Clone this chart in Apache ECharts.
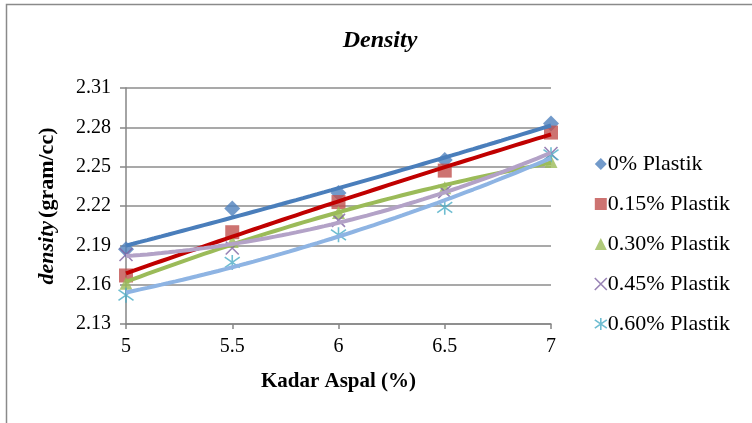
<!DOCTYPE html>
<html>
<head>
<meta charset="utf-8">
<script src="https://cdn.jsdelivr.net/npm/echarts@6/dist/echarts.min.js"></script>
<style>
  html, body { margin: 0; padding: 0; background: #fff; }
  #chart { width: 752px; height: 423px; }
</style>
</head>
<body>
<div id="chart"></div>
<script>
// Kadar aspal (%) on the x axis
const kadarAspal = [5, 5.5, 6, 6.5, 7];

// Measured density (gram/cc) for each plastic content
const seriesNames = ['0% Plastik', '0.15% Plastik', '0.30% Plastik', '0.45% Plastik', '0.60% Plastik'];
const density0 = [2.187, 2.218, 2.230, 2.255, 2.283];
const density015 = [2.167, 2.200, 2.223, 2.247, 2.276];
const density030 = [2.161, 2.193, 2.215, 2.234, 2.254];
const density045 = [2.183, 2.188, 2.209, 2.231, 2.260];
const density060 = [2.152, 2.177, 2.198, 2.219, 2.259];

const yTicks = [2.13, 2.16, 2.19, 2.22, 2.25, 2.28, 2.31];
const xTicks = [5, 5.5, 6, 6.5, 7];

const allDensity = [density0, density015, density030, density045, density060];

const markerColors = ['#4F81BD', '#C0504D', '#9BBB59', '#8064A2', '#4BACC6'];
const trendColors = ['#4A7EBB', '#C00000', '#9BBB59', '#B3A2C7', '#8EB4E3'];

const xMark = 'path://M0,0 L10,10 M10,0 L0,10';
const starMark = 'path://M0,1.5 L10,8.5 M10,1.5 L0,8.5 M5,0 L5,10';
const symbols = ['diamond', 'rect', 'triangle', xMark, starMark];
const symbolSizes = [16, 14, 13, 13, 15];
const stroked = [false, false, false, true, true];

// Second-order least-squares trendline through the measured points
function quadFit(xs, ys) {
  let s0 = xs.length, s1 = 0, s2 = 0, s3 = 0, s4 = 0, t0 = 0, t1 = 0, t2 = 0;
  for (let i = 0; i < xs.length; i++) {
    const x = xs[i], y = ys[i];
    s1 += x; s2 += x * x; s3 += x * x * x; s4 += x * x * x * x;
    t0 += y; t1 += x * y; t2 += x * x * y;
  }
  const M = [[s0, s1, s2, t0], [s1, s2, s3, t1], [s2, s3, s4, t2]];
  for (let c = 0; c < 3; c++) {
    for (let r = c + 1; r < 3; r++) {
      const f = M[r][c] / M[c][c];
      for (let k = c; k < 4; k++) M[r][k] -= f * M[c][k];
    }
  }
  const coef = [0, 0, 0];
  for (let r = 2; r >= 0; r--) {
    let s = M[r][3];
    for (let k = r + 1; k < 3; k++) s -= M[r][k] * coef[k];
    coef[r] = s / M[r][r];
  }
  return coef;
}

function trendPoints(ys) {
  const c = quadFit(kadarAspal, ys);
  const pts = [];
  const x0 = kadarAspal[0], x1 = kadarAspal[kadarAspal.length - 1];
  for (let i = 0; i <= 60; i++) {
    const x = x0 + (x1 - x0) * i / 60;
    pts.push([x, c[0] + c[1] * x + c[2] * x * x]);
  }
  return pts;
}

const series = [];
allDensity.forEach((ys, i) => {
  series.push({
    name: seriesNames[i],
    type: 'scatter',
    z: 2,
    symbol: symbols[i],
    symbolSize: symbolSizes[i],
    itemStyle: stroked[i]
      ? { color: 'rgba(0,0,0,0)', borderColor: markerColors[i], borderWidth: 1.6 }
      : { color: markerColors[i] },
    data: kadarAspal.map((x, k) => [x, ys[k]])
  });
});
allDensity.forEach((ys, i) => {
  series.push({
    name: 'trend ' + seriesNames[i],
    type: 'line',
    z: 3,
    showSymbol: false,
    silent: true,
    lineStyle: { color: trendColors[i], width: 4 },
    data: trendPoints(ys)
  });
});

const serif = '"Liberation Serif", "Times New Roman", serif';

const chart = echarts.init(document.getElementById('chart'), null, { renderer: 'canvas' });
chart.setOption({
  animation: false,
  backgroundColor: '#ffffff',
  textStyle: { fontFamily: serif },
  graphic: [{
    type: 'rect',
    left: 4, top: 2,
    shape: { x: 0, y: 0, width: 800, height: 440 },
    style: { fill: 'none', stroke: '#8a8a8a', lineWidth: 1.5 },
    z: -1
  }],
  title: {
    text: 'Density',
    left: 375, top: 24,
    textAlign: 'center',
    textStyle: { fontFamily: serif, fontSize: 24, fontWeight: 'bold', fontStyle: 'italic', color: '#000' }
  },
  legend: {
    orient: 'vertical',
    left: 589, top: 148,
    itemGap: 18,
    itemWidth: 12, itemHeight: 12,
    data: seriesNames.map((n, i) => ({
      name: n,
      icon: symbols[i],
      itemStyle: stroked[i]
        ? { color: 'rgba(0,0,0,0)', borderColor: markerColors[i], borderWidth: 1.6 }
        : { color: markerColors[i] }
    })),
    textStyle: { fontFamily: serif, fontSize: 22, lineHeight: 22, color: '#000', padding: [0, 0, 0, -4] }
  },
  grid: { left: 126, right: 201, top: 88, bottom: 99 },
  xAxis: {
    type: 'value',
    min: xTicks[0], max: xTicks[xTicks.length - 1], interval: 0.5,
    name: 'Kadar Aspal (%)',
    nameLocation: 'middle',
    nameGap: 47,
    nameTextStyle: { fontFamily: serif, fontSize: 21, fontWeight: 'bold', color: '#000' },
    axisLine: { show: true, lineStyle: { color: '#868686', width: 1.5 } },
    axisTick: { show: true, length: 5, lineStyle: { color: '#868686', width: 1.5 } },
    axisLabel: { fontFamily: serif, fontSize: 20, color: '#000', margin: 13,
      formatter: v => String(v) },
    splitLine: { show: false }
  },
  yAxis: {
    type: 'value',
    min: yTicks[0], max: yTicks[yTicks.length - 1], interval: 0.03,
    name: '{i|density} {b|(gram/cc)}',
    nameLocation: 'middle',
    nameGap: 68,
    nameRotate: 90,
    nameTextStyle: {
      rich: {
        i: { fontFamily: serif, fontSize: 22, fontWeight: 'bold', fontStyle: 'italic', color: '#000' },
        b: { fontFamily: serif, fontSize: 22, fontWeight: 'bold', color: '#000' }
      }
    },
    axisLine: { show: true, lineStyle: { color: '#868686', width: 1.5 } },
    axisTick: { show: true, length: 6, lineStyle: { color: '#868686', width: 1.5 } },
    axisLabel: { fontFamily: serif, fontSize: 20, color: '#000', margin: 15,
      formatter: v => v.toFixed(2) },
    splitLine: { show: true, lineStyle: { color: '#8c8c8c', width: 1.5 } }
  },
  series: series
});
</script>
</body>
</html>
